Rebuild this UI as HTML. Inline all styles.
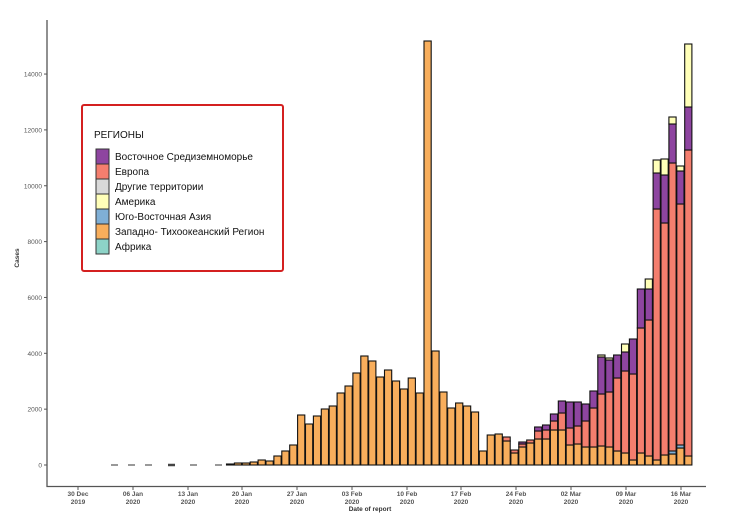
<!DOCTYPE html>
<html><head><meta charset="utf-8"><style>
body{margin:0;background:#fff;}
svg text{font-family:"Liberation Sans",sans-serif;}
</style></head><body>
<svg id="s" width="739" height="514" xmlns="http://www.w3.org/2000/svg">
<rect width="739" height="514" fill="#fff"/>
<line x1="47" y1="20" x2="47" y2="487" stroke="#555" stroke-width="1.3"/>
<line x1="46.5" y1="486.5" x2="706" y2="486.5" stroke="#555" stroke-width="1.3"/>
<g id="yt" font-size="6.5" fill="#555" text-anchor="end"></g>
<g id="xt" font-size="6.5" font-weight="bold" fill="#555" text-anchor="middle"></g>
<text x="19" y="258" font-size="6.5" font-weight="bold" fill="#333" transform="rotate(-90 19 258)" text-anchor="middle">Cases</text>
<text x="370" y="511" font-size="6.5" font-weight="bold" fill="#333" text-anchor="middle">Date of report</text>
<g id="bars" stroke="#111" stroke-width="1.1"></g>
<g stroke="#999" stroke-width="2">
<line x1="111" y1="465" x2="118" y2="465"/><line x1="128" y1="465" x2="135" y2="465"/><line x1="145" y1="465" x2="152" y2="465"/><line x1="190" y1="465" x2="197" y2="465"/><line x1="215" y1="465" x2="222" y2="465"/>
<line x1="168" y1="465" x2="175" y2="465" stroke="#444" stroke-width="2.5"/>
</g>
<rect x="82" y="105" width="201" height="166" fill="#fff" stroke="#d42020" stroke-width="2" rx="2"/>
<text x="94" y="138" font-size="10" fill="#111">РЕГИОНЫ</text>
<g id="leg" font-size="10" fill="#111"></g>
</svg>
<script>
const NS="http://www.w3.org/2000/svg";
function el(p,t,a,tx){const e=document.createElementNS(NS,t);for(const k in a)e.setAttribute(k,a[k]);if(tx!==undefined)e.textContent=tx;p.appendChild(e);return e;}
const yt=document.getElementById('yt');
for(let i=0;i<=7;i++){const y=465-i*55.85;el(yt,'text',{x:42,y:y+2.5},String(i*2000));el(yt,'line',{x1:44,y1:y,x2:47,y2:y,stroke:'#555'});}
const xt=document.getElementById('xt');
const L=[["30 Dec","2019",78],["06 Jan","2020",133],["13 Jan","2020",188],["20 Jan","2020",242],["27 Jan","2020",297],["03 Feb","2020",352],["10 Feb","2020",407],["17 Feb","2020",461],["24 Feb","2020",516],["02 Mar","2020",571],["09 Mar","2020",626],["16 Mar","2020",681]];
L.forEach(l=>{el(xt,'line',{x1:l[2],y1:486,x2:l[2],y2:490,stroke:'#555'});el(xt,'text',{x:l[2],y:496},l[0]);el(xt,'text',{x:l[2],y:504},l[1]);});
const O="#F8AE5C",R="#F47E6E",P="#8E45A0",Y="#FFFFB8",B="#7FAFD6";
const bars=document.getElementById('bars');
const early=[464,463,463,462,460,461,456,451,445,415,424,416,409,406,393,386,373,356,361,377,370,381,389,378,393,41,351,392,408,403,406,412,451,435,434];
const w=7.2;
function X(d){return 80+7.9*d-w/2;}
early.forEach((t,i)=>{const d=19+i;el(bars,'rect',{x:X(d),y:t,width:w,height:465-t,fill:O});});
const late={54:[441,437,437,437],55:[453,450,450,450],56:[447,444,442,442],57:[443,440,440,440],58:[439,431,427,427],59:[439,430,425,425],60:[430,421,414,414],61:[430,413,401,401],62:[445,428,402,402],63:[444,426,402,402],64:[447,421,404,404],65:[447,408,391,391],66:[446,394,357,355],67:[447,392,360,358],68:[451,378,355,355],69:[453,371,352,344],70:[460,374,339,339],71:[453,328,289,289],72:[456,320,289,279],73:[460,209,173,160],74:[455,223,175,159],75:[454,163,124,117],76:[448,204,171,166],77:[456,150,107,44]};
for(const k in late){const d=+k,a=late[k];const segs=[[465,a[0],O],[a[0],a[1],R],[a[1],a[2],P],[a[2],a[3],Y]];
segs.forEach(s=>{if(s[0]-s[1]>0.5)el(bars,'rect',{x:X(d),y:s[1],width:w,height:s[0]-s[1],fill:s[2]});});
if(d==75||d==76)el(bars,'rect',{x:X(d),y:a[0]-3,width:w,height:3,fill:B});}
const leg=document.getElementById('leg');
const items=[["Восточное Средиземноморье",P],["Европа",R],["Другие территории","#D9D9D9"],["Америка",Y],["Юго-Восточная Азия",B],["Западно- Тихоокеанский Регион",O],["Африка","#8DD3C7"]];
items.forEach((it,i)=>{const y=149+i*15;el(leg,'rect',{x:96,y:y,width:13,height:15,fill:it[1],stroke:'#333','stroke-width':1});el(leg,'text',{x:115,y:y+11},it[0]);});
</script>
</body></html>
